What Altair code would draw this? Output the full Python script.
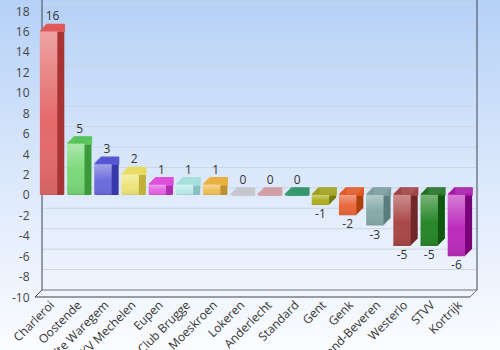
import altair as alt
import pandas as pd

teams = ["Charleroi", "Oostende", "Zulte Waregem", "KV Mechelen", "Eupen",
         "Club Brugge", "Moeskroen", "Lokeren", "Anderlecht", "Standard",
         "Gent", "Genk", "Waasland-Beveren", "Westerlo", "STVV", "Kortrijk"]
values = [16, 5, 3, 2, 1, 1, 1, 0, 0, 0, -1, -2, -3, -5, -5, -6]
y_ticks = list(range(-10, 19, 2))
grid_vals = list(range(-8, 19, 2))

front_colors = ["#e46a6a", "#7ad87a", "#6c6cdc", "#eee47a", "#e266e2", "#bceaea",
                "#eec05a", "#d0d0d8", "#dca8b0", "#44a484", "#b0b024", "#e8663a",
                "#86aaaa", "#aa4848", "#288628", "#bc2cbc"]
top_colors = ["#e05a5a", "#5cc85c", "#5a5ad8", "#e8dc60", "#dd50dd", "#a8e0e0",
              "#e8b040", "#c8c8d0", "#d4a0a8", "#3a9a70", "#a0a018", "#e05820",
              "#7a9c9c", "#a04040", "#207020", "#a818a8"]
side_colors = ["#a83434", "#3a9a3a", "#3838a8", "#c0b038", "#b030b0", "#88c0c0",
               "#c09030", "#b0b0b8", "#c09098", "#2a7a5a", "#7a7a10", "#b04010",
               "#5a7c7c", "#702828", "#105810", "#780078"]

W, H = 435, 286
PL, PT, PR, PB = 35, 11, 30, 53
D = 7
FONT = "Open Sans"

df = pd.DataFrame({"team": teams, "value": values})
grid_df = pd.DataFrame({"g": grid_vals})
one = pd.DataFrame({"a": [0]})

yscale = alt.Scale(domain=[-10, 18], nice=False, zero=False)
yaxis = alt.Axis(values=y_ticks, title=None, domain=False, ticks=False, tickSize=0,
                 grid=False, labelPadding=6, labelFont=FONT, labelFontSize=12,
                 labelColor="#444444", labelExpr="'' + datum.value", zindex=2)
xenc = alt.X("team:N", sort=teams, title=None,
             scale=alt.Scale(paddingInner=0.36, paddingOuter=0.18),
             axis=alt.Axis(labelAngle=-45, domain=False, ticks=False, labelPadding=2,
                           labelFont=FONT, labelFontSize=12, labelColor="#333333",
                           labelOverlap=False, zindex=2))
Y = alt.Y("value:Q", scale=yscale, axis=yaxis)

bg = alt.Chart(one).mark_rect(
    fill=alt.Gradient(gradient="linear", x1=0, x2=0, y1=0, y2=1,
                      stops=[alt.GradientStop(color="#b6d1f7", offset=0),
                             alt.GradientStop(color="#dbe8fb", offset=0.5),
                             alt.GradientStop(color="#fbfcff", offset=1)])
).encode(x=alt.value(-PL), x2=alt.value(W + PR), y=alt.value(-PT), y2=alt.value(H + PB))

grid = alt.Chart(grid_df).mark_rule(yOffset=-D, color="#cdd6e2", strokeWidth=1).encode(
    y=alt.Y("g:Q", scale=yscale, axis=yaxis), x=alt.value(D), x2=alt.value(W + D))

frame_color = "#3c4452"
def seg(x1, y1, x2, y2, c=frame_color, w=1):
    return alt.Chart(one).mark_rule(color=c, strokeWidth=w).encode(
        x=alt.value(x1), y=alt.value(y1), x2=alt.value(x2), y2=alt.value(y2))

frame = [
    seg(D, -PT, D, H - D),
    seg(W + D, -PT, W + D, H - D),
    seg(D, H - D, W + D, H - D, "#6a7280"),
    seg(0, H, W, H),
    seg(0, H, D, H - D),
    seg(W, H, W + D, H - D, "#6a7280"),
]

base = alt.Chart(df).encode(x=xenc)

side_layers = [
    base.mark_bar(xOffset=k, yOffset=-k).encode(
        y=Y, y2=alt.datum(0),
        fill=alt.Fill("team:N", scale=alt.Scale(domain=teams, range=side_colors), legend=None))
    for k in range(D, 0, -1)
]
top_layers = [
    base.transform_calculate(top="max(datum.value, 0)").mark_bar(
        xOffset=k, yOffset=-k, fillOpacity=0, strokeWidth=1.3).encode(
        y=alt.Y("top:Q", scale=yscale, axis=yaxis), y2=alt.Y2("top:Q"),
        stroke=alt.Stroke("team:N", scale=alt.Scale(domain=teams, range=top_colors), legend=None))
    for k in range(D, 0, -1)
]
front = base.mark_bar().encode(
    y=Y, y2=alt.datum(0),
    color=alt.Color("team:N", scale=alt.Scale(domain=teams, range=front_colors), legend=None))
shine = base.mark_bar(
    fill=alt.Gradient(gradient="linear", x1=0, x2=0, y1=0, y2=1,
                      stops=[alt.GradientStop(color="rgba(255,255,255,0.38)", offset=0),
                             alt.GradientStop(color="rgba(255,255,255,0)", offset=0.55),
                             alt.GradientStop(color="rgba(0,0,0,0.08)", offset=1)])
).encode(y=Y, y2=alt.datum(0))

lab_pos = base.transform_filter("datum.value >= 0").transform_calculate(
    lbl="'' + datum.value").mark_text(
    font=FONT, fontSize=12, color="#333333", dx=4, dy=-8, baseline="bottom").encode(
    y=Y, text="lbl:N")
lab_neg = base.transform_filter("datum.value < 0").transform_calculate(
    lbl="'' + datum.value").mark_text(
    font=FONT, fontSize=12, color="#333333", dx=0, dy=4, baseline="top").encode(
    y=Y, text="lbl:N")

chart = alt.layer(bg, grid, *frame, *side_layers, *top_layers, front, shine, lab_pos, lab_neg).properties(
    width=W, height=H,
    padding={"left": PL, "top": PT, "right": PR, "bottom": PB},
    autosize=alt.AutoSizeParams(type="none"),
).configure_view(strokeWidth=0)

chart.save("out.html", embed_options={"renderer": "svg", "actions": False})
